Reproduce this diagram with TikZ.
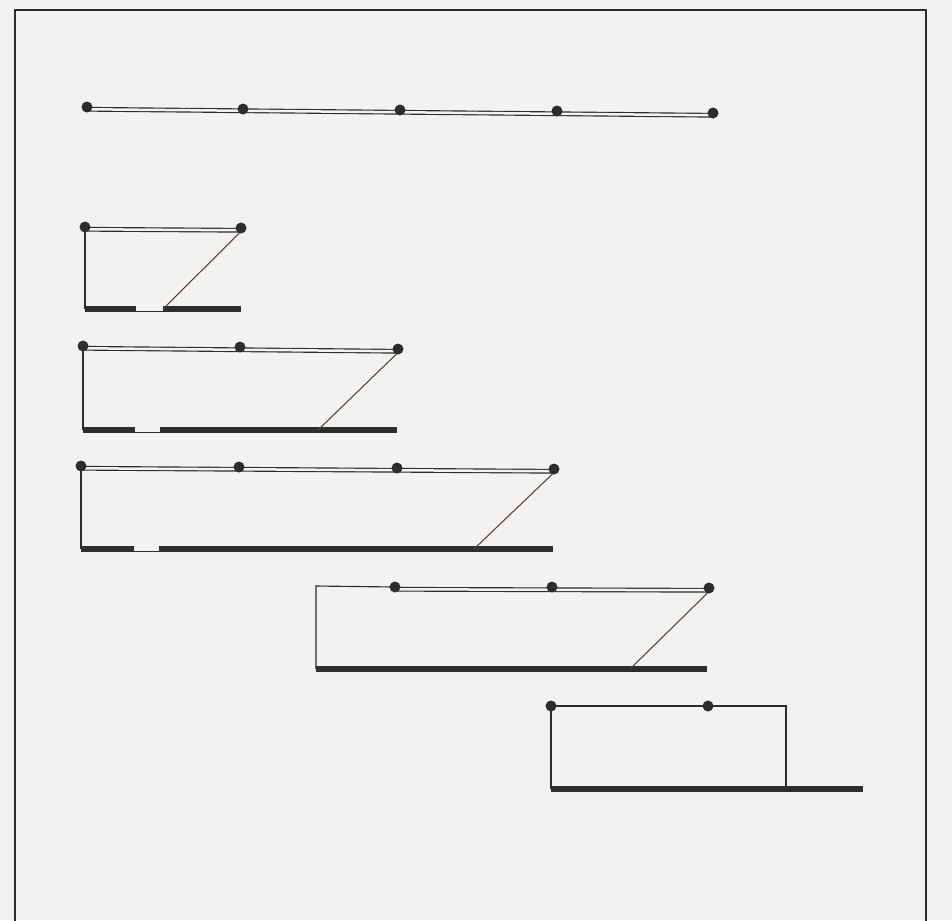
\documentclass[tikz,border=0pt]{standalone}
\usepackage{xcolor}
\usepackage{tikz}

\definecolor{paper}{RGB}{242,242,240}
\definecolor{ink}{RGB}{45,45,45}
\definecolor{tie}{RGB}{90,60,60}

\tikzset{
  joint/.style={circle, fill=ink, inner sep=0pt, minimum size=0.22cm},
  wire/.style={draw=ink, line width=0.65pt},
  rod/.style={draw=ink, line width=0.65pt, double=paper, double distance=0.05cm},
  brace/.style={draw=tie, line width=0.6pt},
  bed/.style={draw=ink, line width=0.12cm},
}

\begin{document}
\begin{tikzpicture}[x=0.02cm, y=-0.02cm]
  \useasboundingbox (0,0) rectangle (952,920);
  \fill[paper] (0,0) rectangle (952,920);
  \clip (0,0) rectangle (952,920);
  \draw[ink, line width=1.1pt] (15,940) -- (15,10) -- (926,10) -- (926,940);

  % ---------- row 1 ----------
  \coordinate (a1) at (87,107);
  \coordinate (a2) at (243,109);
  \coordinate (a3) at (400,110);
  \coordinate (a4) at (557,111);
  \coordinate (a5) at (713,113);
  \draw[rod] ([yshift=-0.045cm]a1) -- ([yshift=-0.045cm]a5);
  \foreach \p in {a1,a2,a3,a4,a5}
    \node[joint] (\p-dot) at (\p) {};

  % ---------- row 2 ----------
  \coordinate (b1) at (85,227);
  \coordinate (b2) at (241,228);
  \coordinate (b-l) at (85,309);
  \coordinate (b-g1) at (136,309);
  \coordinate (b-g2) at (163,309);
  \coordinate (b-r) at (241,309);
  \draw[wire] (b1) -- (b-l);
  \draw[bed] (b-l) -- (b-g1);
  \draw[bed] (b-g2) -- (b-r);
  \draw[wire] ([yshift=-0.05cm]b-g1) -- ([yshift=-0.05cm]b-g2);
  \draw[rod] ([yshift=-0.045cm]b1) -- ([yshift=-0.045cm]b2);
  \draw[brace] ([yshift=-0.07cm]b2) -- (b-g2);
  \foreach \p in {b1,b2}
    \node[joint] (\p-dot) at (\p) {};

  % ---------- row 3 ----------
  \coordinate (c1) at (83,346);
  \coordinate (c2) at (240,347);
  \coordinate (c3) at (398,349);
  \coordinate (c-l) at (83,430);
  \coordinate (c-g1) at (135,430);
  \coordinate (c-g2) at (160,430);
  \coordinate (c-f) at (318,430);
  \coordinate (c-r) at (397,430);
  \draw[wire] (c1) -- (c-l);
  \draw[bed] (c-l) -- (c-g1);
  \draw[bed] (c-g2) -- (c-r);
  \draw[wire] ([yshift=-0.05cm]c-g1) -- ([yshift=-0.05cm]c-g2);
  \draw[rod] ([yshift=-0.045cm]c1) -- ([yshift=-0.045cm]c3);
  \draw[brace] ([yshift=-0.07cm]c3) -- (c-f);
  \foreach \p in {c1,c2,c3}
    \node[joint] (\p-dot) at (\p) {};

  % ---------- row 4 ----------
  \coordinate (d1) at (81,466);
  \coordinate (d2) at (239,467);
  \coordinate (d3) at (397,468);
  \coordinate (d4) at (554,469);
  \coordinate (d-l) at (81,549);
  \coordinate (d-g1) at (134,549);
  \coordinate (d-g2) at (159,549);
  \coordinate (d-f) at (474,549);
  \coordinate (d-r) at (553,549);
  \draw[wire] (d1) -- (d-l);
  \draw[bed] (d-l) -- (d-g1);
  \draw[bed] (d-g2) -- (d-r);
  \draw[wire] ([yshift=-0.05cm]d-g1) -- ([yshift=-0.05cm]d-g2);
  \draw[rod] ([yshift=-0.045cm]d1) -- ([yshift=-0.045cm]d4);
  \draw[brace] ([yshift=-0.07cm]d4) -- (d-f);
  \foreach \p in {d1,d2,d3,d4}
    \node[joint] (\p-dot) at (\p) {};

  % ---------- row 5 ----------
  \coordinate (e0) at (316,586);
  \coordinate (e1) at (395,587);
  \coordinate (e2) at (552,587);
  \coordinate (e3) at (709,588);
  \coordinate (e-l) at (316,669);
  \coordinate (e-f) at (630,669);
  \coordinate (e-r) at (707,669);
  \draw[wire] (e1) -- (e0) -- (e-l);
  \draw[bed] (e-l) -- (e-r);
  \draw[rod] ([yshift=-0.045cm]e1) -- ([yshift=-0.045cm]e3);
  \draw[brace] ([yshift=-0.07cm]e3) -- (e-f);
  \foreach \p in {e1,e2,e3}
    \node[joint] (\p-dot) at (\p) {};

  % ---------- row 6 ----------
  \coordinate (f1) at (551,706);
  \coordinate (f2) at (708,706);
  \coordinate (f3) at (786,706);
  \coordinate (f-l) at (551,789);
  \coordinate (f-f) at (786,789);
  \coordinate (f-r) at (863,789);
  \draw[wire] (f-l) -- (f1) -- (f3) -- (f-f);
  \draw[bed] (f-l) -- (f-r);
  \foreach \p in {f1,f2}
    \node[joint] (\p-dot) at (\p) {};
\end{tikzpicture}
\end{document}
